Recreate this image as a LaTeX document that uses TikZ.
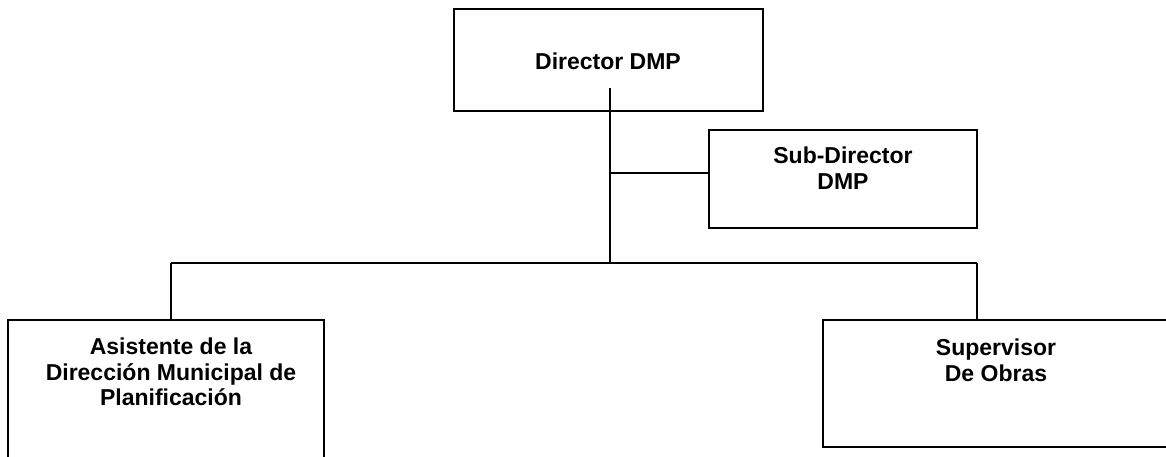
\documentclass[tikz,border=0pt]{standalone}
\usepackage{fontspec}
\setmainfont{Liberation Sans}
\begin{document}
\begin{tikzpicture}[x=1pt,y=-1pt,
  box/.style={draw=black, rectangle, line width=2pt, inner sep=0pt, outer sep=0pt, anchor=north west},
  lbl/.style={align=center, inner sep=0pt, outer sep=0pt, anchor=north, font=\fontsize{23}{25.5}\selectfont\bfseries},
  conn/.style={draw=black, line width=2pt}]
\path[use as bounding box, clip] (0,0) rectangle (1166,456);
\fill[white] (0,0) rectangle (1166,456);
% boxes
\node[box, minimum width=309pt, minimum height=102pt] (dir) at (454,9) {};
\node[box, minimum width=268pt, minimum height=98pt] (sub) at (709,130) {};
\node[box, minimum width=316pt, minimum height=170pt] (asis) at (8,320) {};
\node[box, minimum width=370pt, minimum height=127pt] (sup) at (823,320) {};
% labels
\node[lbl] (dirT) at (608,53) {Director DMP};
\node[lbl] (subT) at (843,147) {Sub-Director\\DMP};
\node[lbl] (asisT) at (171,338) {Asistente de la\\Dirección Municipal de\\Planificación};
\node[lbl] (supT) at (996,339) {Supervisor\\De Obras};
% connectors
\coordinate (cTop) at (610,88);
\coordinate (cJunc) at (610,263);
\coordinate (cBr) at (610,173);
\coordinate (cL) at (171,263);
\coordinate (cR) at (977,263);
\draw[conn] (cTop) -- (cJunc);
\draw[conn] (cBr) -- (cBr -| sub.west);
\draw[conn] (cL) -- (cR);
\draw[conn] (cL) -- (cL |- asis.north);
\draw[conn] (cR) -- (cR |- sup.north);
\end{tikzpicture}
\end{document}
